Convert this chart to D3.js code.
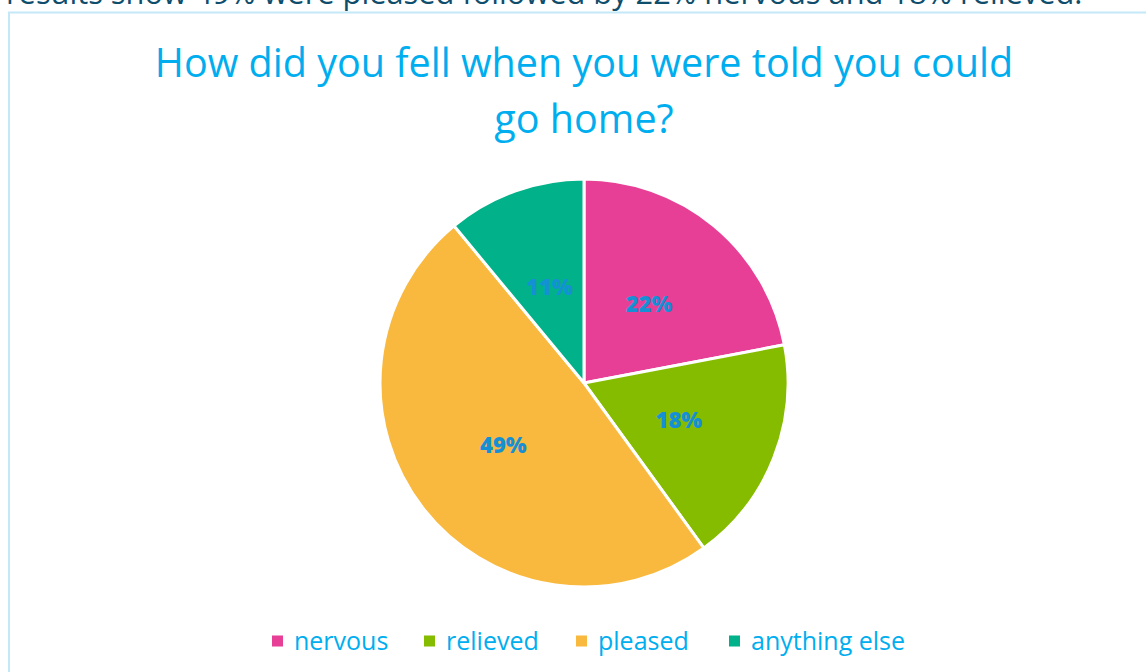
<!DOCTYPE html>
<html>
<head>
<meta charset="utf-8">
<script src="https://cdn.jsdelivr.net/npm/d3@7"></script>
<style>
  html, body { margin: 0; padding: 0; background: #ffffff; overflow: hidden; }
  svg { display: block; }
</style>
</head>
<body>
<svg id="chart" width="1146" height="672"></svg>
<script>
// Survey answers: share of respondents per feeling (percent)
const categories = ["nervous", "relieved", "pleased", "anything else"];
const values = [22, 18, 49, 11];
const colors = ["#E83F96", "#86BC00", "#F9B93E", "#00B189"];
const titleLines = ["How did you fell when you were told you could", "go home?"];
const introText = "results show 49% were pleased followed by 22% nervous and 18% relieved.";

const svg = d3.select("#chart");
const W = 1146, H = 672;

// Paragraph line above the chart box (partly scrolled out of view)
svg.append("text")
  .attr("x", 6).attr("y", 4)
  .attr("font-family", "'Open Sans', sans-serif")
  .attr("font-size", 30.8)
  .attr("fill", "#0E4D6B")
  .text(introText);

// Chart frame
svg.append("rect")
  .attr("x", 9).attr("y", 12.5)
  .attr("width", W + 20).attr("height", H + 20)
  .attr("fill", "#ffffff")
  .attr("stroke", "#C3E9F8")
  .attr("stroke-width", 2);

// Title
svg.append("g").selectAll("text")
  .data(titleLines)
  .join("text")
  .attr("x", 584)
  .attr("y", (d, i) => 77 + i * 56)
  .attr("text-anchor", "middle")
  .attr("font-family", "'Open Sans', sans-serif")
  .attr("font-size", 39.5)
  .attr("fill", "#00AEEF")
  .text(d => d);

// Pie
const cx = 584, cy = 383, R = 204;
const data = categories.map((c, i) => ({ name: c, value: values[i], color: colors[i] }));
const pie = d3.pie().value(d => d.value).sort(null);
const arc = d3.arc().innerRadius(0).outerRadius(R);
const labelArc = d3.arc().innerRadius(0).outerRadius(R);

const g = svg.append("g").attr("transform", `translate(${cx},${cy})`);
const arcs = pie(data);

g.selectAll("path")
  .data(arcs)
  .join("path")
  .attr("d", arc)
  .attr("fill", d => d.data.color)
  .attr("stroke", "#ffffff")
  .attr("stroke-width", 3)
  .attr("stroke-linejoin", "round");

g.selectAll("text.pct")
  .data(arcs)
  .join("text")
  .attr("class", "pct")
  .attr("transform", d => `translate(${labelArc.centroid(d)})`)
  .attr("text-anchor", "middle")
  .attr("dy", "0.35em")
  .attr("font-family", "'Open Sans', sans-serif")
  .attr("font-weight", 800)
  .attr("font-size", 22)
  .attr("fill", "#1590D5")
  .text(d => d.data.value + "%");

// Legend
const legendX = [272, 424, 576, 729];
const legend = svg.append("g").selectAll("g")
  .data(data)
  .join("g")
  .attr("transform", (d, i) => `translate(${legendX[i]},641)`);

legend.append("rect")
  .attr("x", 0).attr("y", -5.5)
  .attr("width", 11).attr("height", 11)
  .attr("fill", d => d.color);

legend.append("text")
  .attr("x", 22).attr("y", 0)
  .attr("dy", "0.35em")
  .attr("font-family", "'Open Sans', sans-serif")
  .attr("font-size", 25)
  .attr("fill", "#00AEEF")
  .text(d => d.name);
</script>
</body>
</html>
